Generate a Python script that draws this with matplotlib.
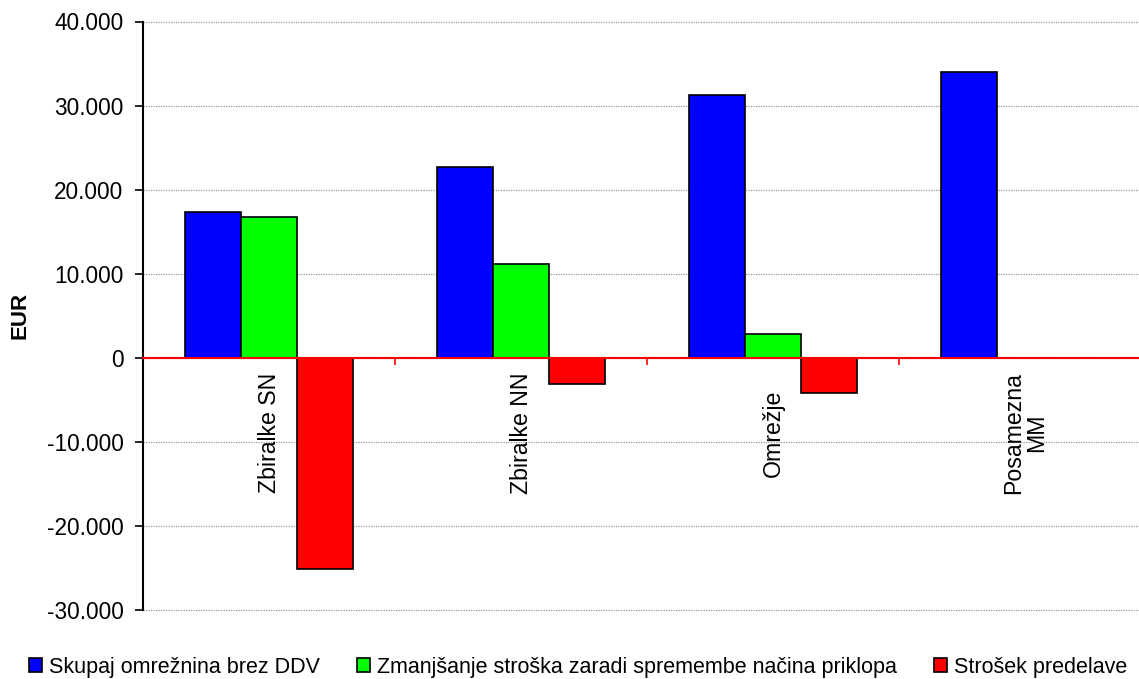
import numpy as np
import matplotlib
matplotlib.use("Agg")
import matplotlib.pyplot as plt
from matplotlib.ticker import FuncFormatter, FixedLocator
from matplotlib.patches import Patch
import matplotlib.transforms as mtransforms

plt.rcParams['font.family'] = ['Liberation Sans', 'DejaVu Sans']

categories = ["Zbiralke SN", "Zbiralke NN", "Omrežje", "Posamezna\nMM"]
series_names = ["Skupaj omrežnina brez DDV",
                "Zmanjšanje stroška zaradi spremembe načina priklopa",
                "Strošek predelave"]
skupaj = [17400, 22700, 31200, 33950]
zmanjsanje = [16700, 11200, 2800, np.nan]
strosek = [-25100, -3100, -4200, np.nan]
colors = ["#0000FF", "#00FF00", "#FF0000"]
y_ticks = [-30000, -20000, -10000, 0, 10000, 20000, 30000, 40000]

W, H = 1139, 679
fig = plt.figure(figsize=(W/100, H/100), dpi=100)
ax = fig.add_axes([143/W, 1-610/H, (1151-143)/W, (610-21.5)/H])

x = np.arange(len(categories))
w = 0.223
for i, (vals, c, name) in enumerate(zip([skupaj, zmanjsanje, strosek], colors, series_names)):
    ax.bar(x + (i-1)*w, vals, width=w, color=c, edgecolor='black', linewidth=1.2, label=name, zorder=2)

ax.set_xlim(-0.5, len(categories)-0.5)
ax.set_ylim(-30000, 40000)
ax.yaxis.set_major_locator(FixedLocator(y_ticks))
ax.yaxis.set_major_formatter(FuncFormatter(lambda v, p: f"{v:,.0f}".replace(',', '.')))
ax.set_axisbelow(True)
ax.grid(axis='y', color='#9a9a9a', linestyle=(0, (1, 1)), linewidth=0.9)
for gl in ax.get_ygridlines():
    gl.set_clip_on(False)

for s in ['top', 'right']:
    ax.spines[s].set_visible(False)
ax.spines['left'].set_linewidth(1.5)
ax.spines['left'].set_color('black')
ax.spines['bottom'].set_position(('data', 0))
ax.spines['bottom'].set_color('#FF0000')
ax.spines['bottom'].set_linewidth(1.5)
ax.spines['bottom'].set_zorder(3)

ax.set_xticks(np.arange(-0.5, len(categories), 1.0))
ax.set_xticklabels([])
ax.tick_params(axis='x', colors='#FF0000', direction='out', length=5, width=1.2)
ax.tick_params(axis='y', direction='out', length=6, width=1.2, labelsize=16.3, pad=8, colors='black')

trans = mtransforms.blended_transform_factory(ax.transData, ax.transAxes)
yl = (610-433)/588.5
for xi, cat in zip(x, categories):
    ax.text(xi, yl, cat, rotation=90, ha='center', va='center', fontsize=16.7,
            multialignment='center', transform=trans, linespacing=1.0)

ax.set_ylabel("EUR", fontsize=16, fontweight='bold', labelpad=12)

handles = [Patch(facecolor=c, edgecolor='black', linewidth=1.2) for c in colors]
fig.legend(handles, series_names, loc='center', bbox_to_anchor=(578/W, 1-667/H),
           ncol=3, frameon=False, fontsize=15.5, handlelength=0.6, handleheight=0.6,
           handletextpad=0.3, columnspacing=1.75, borderaxespad=0)

fig.savefig("out.png", dpi=100)
